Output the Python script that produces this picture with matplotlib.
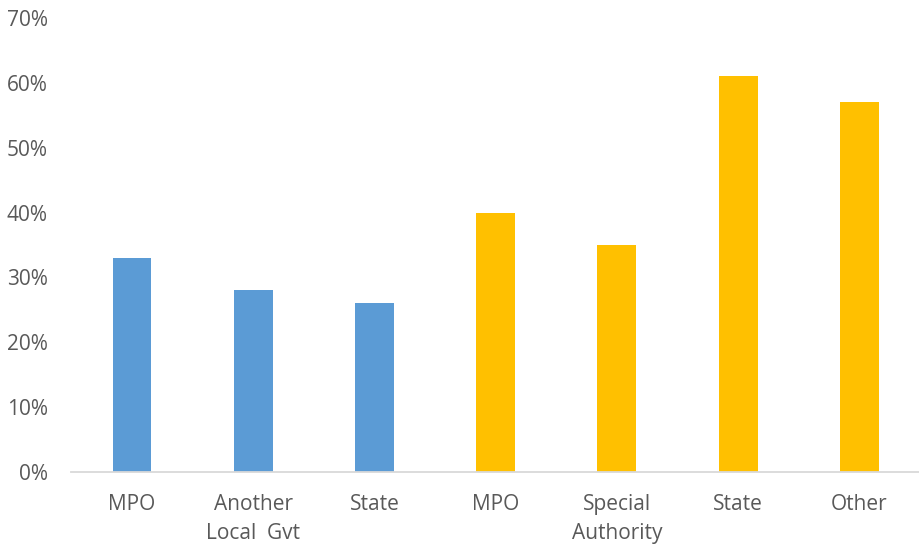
import matplotlib
matplotlib.use("Agg")
import matplotlib.pyplot as plt
from matplotlib.ticker import PercentFormatter

categories = ["MPO", "Another\nLocal  Gvt", "State", "MPO", "Special\nAuthority", "State", "Other"]
values = [33, 28, 26, 40, 35, 61, 57]
colors = ["#5B9BD5", "#5B9BD5", "#5B9BD5", "#FFC000", "#FFC000", "#FFC000", "#FFC000"]
yticks = [0, 10, 20, 30, 40, 50, 60, 70]

plt.rcParams["font.family"] = ["Open Sans", "DejaVu Sans"]

fig = plt.figure(figsize=(9.2, 5.48), dpi=100)
ax = fig.add_axes([0.0775, 0.1387, 0.9225, 0.8284])

x = range(len(categories))
ax.bar(x, values, width=0.32, color=colors, zorder=2)

ax.set_xlim(-0.5, len(categories) - 0.5)
ax.set_ylim(0, 70)
ax.set_yticks(yticks)
ax.yaxis.set_major_formatter(PercentFormatter(decimals=0))
ax.set_xticks(list(x))
ax.set_xticklabels(categories, linespacing=1.5, va="top")

for side in ("top", "right", "left"):
    ax.spines[side].set_visible(False)
ax.spines["bottom"].set_color("#D9D9D9")
ax.spines["bottom"].set_linewidth(1.3)

ax.tick_params(axis="both", length=0, colors="#595959", labelsize=15)
ax.tick_params(axis="y", pad=17)
ax.tick_params(axis="x", pad=16)

fig.savefig("out.png", dpi=100)
